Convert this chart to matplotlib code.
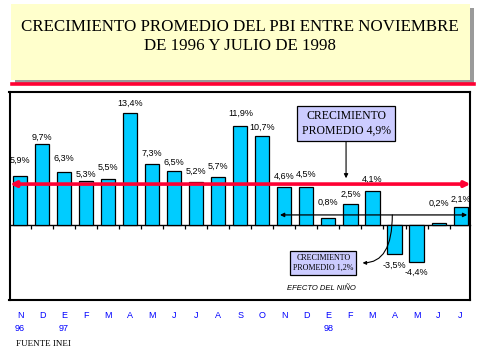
import numpy as np
import matplotlib
matplotlib.use("Agg")
import matplotlib.pyplot as plt
from matplotlib.patches import Rectangle
from matplotlib.lines import Line2D

# Crecimiento mensual del PBI (%) nov-96 .. jul-98
months = ["N", "D", "E", "F", "M", "A", "M", "J", "J", "A", "S",
          "O", "N", "D", "E", "F", "M", "A", "M", "J", "J"]
years = ["96", "", "97", "", "", "", "", "", "", "", "",
         "", "", "", "98", "", "", "", "", "", ""]
growth = [5.9, 9.7, 6.3, 5.3, 5.5, 13.4, 7.3, 6.5, 5.2, 5.7, 11.9,
          10.7, 4.6, 4.5, 0.8, 2.5, 4.1, -3.5, -4.4, 0.2, 2.1]
avg_total = 4.9
avg_nino = 1.2
# distance (px) of each value label from the bar end
label_gap = [15, 7, 14, 6, 12, 10, 11, 8, 10, 11, 12, 8, 10, 13, 16, 10, 11, 11, 11, 20, 8]

n = len(growth)
xs = np.arange(n)

fig = plt.figure(figsize=(4.79, 3.59), dpi=100)

# title box with shadow
W, H = 479.0, 359.0
fig.patches.append(Rectangle((15 / W, 1 - 84 / H), 459 / W, 76 / H,
                             transform=fig.transFigure, facecolor="#9a9a9a",
                             edgecolor="none", zorder=0))
fig.patches.append(Rectangle((11 / W, 1 - 80 / H), 459 / W, 76 / H,
                             transform=fig.transFigure, facecolor="#ffffcc",
                             edgecolor="none", zorder=1))
fig.text(240 / W, 1 - 36.5 / H,
         "CRECIMIENTO PROMEDIO DEL PBI ENTRE NOVIEMBRE\nDE 1996 Y JULIO DE 1998",
         ha="center", va="center", fontsize=12.2, family="Liberation Serif",
         linespacing=1.25, zorder=2)

# red line under the title
fig.lines.append(Line2D([12 / W, 474 / W], [1 - 84 / H, 1 - 84 / H],
                        transform=fig.transFigure, color="#ff0033", lw=2.6))

ax = fig.add_axes([9.5 / W, 1 - 300 / H, 461 / W, 208.5 / H])
ymin, ymax = -9, 16
ax.set_xlim(-0.48, n - 0.55)
ax.set_ylim(ymin, ymax)

ax.bar(xs, growth, width=0.64, color="#00ccff", edgecolor="black", lw=0.9, zorder=2)

for x, v, g in zip(xs, growth, label_gap):
    txt = f"{v:.1f}".replace(".", ",") + "%"
    off = g * 0.72 if v >= 0 else -g * 0.72
    ax.annotate(txt, (x, v), xytext=(0, off), textcoords="offset points",
                ha="center", va="center", fontsize=6.5, family="Liberation Sans")

# zero line with ticks between categories
loc = -ymin / (ymax - ymin)
sec = ax.secondary_xaxis(loc)
sec.set_xticks(np.arange(n - 1) + 0.5)
sec.set_xticklabels([])
sec.tick_params(axis="x", direction="out", length=3, width=0.9)
sec.spines["bottom"].set_linewidth(1.0)

ax.set_yticks([])
ax.set_xticks(xs)
ax.set_xticklabels([m + "\n" + y if y else m for m, y in zip(months, years)],
                   color="#0000ff", fontsize=6.5, family="Liberation Sans")
for lbl in ax.get_xticklabels():
    lbl.set_linespacing(1.6)
    lbl.set_verticalalignment("top")
ax.tick_params(axis="x", length=0, pad=7.8)
for s in ax.spines.values():
    s.set_linewidth(1.5)

# average growth arrow (red)
ax.annotate("", xy=(n - 0.55, avg_total), xytext=(-0.45, avg_total),
            arrowprops=dict(arrowstyle="<|-|>", color="#ff0033", lw=2.6,
                            mutation_scale=8, shrinkA=0, shrinkB=0), zorder=3)

# average growth during El Nino (black)
ax.annotate("", xy=(20.3, avg_nino), xytext=(11.8, avg_nino),
            arrowprops=dict(arrowstyle="<|-|>", color="black", lw=0.9,
                            mutation_scale=6, shrinkA=0, shrinkB=0), zorder=3)

ax.text(14.8, 12.2, "CRECIMIENTO\nPROMEDIO " + f"{avg_total:.1f}".replace(".", ",") + "%",
        ha="center", va="center", fontsize=8.5, family="Liberation Serif",
        linespacing=1.3,
        bbox=dict(boxstyle="square,pad=0.35", facecolor="#ccccff",
                  edgecolor="black", lw=0.9), zorder=4)
ax.annotate("", xy=(14.8, 5.6), xytext=(14.8, 10.2),
            arrowprops=dict(arrowstyle="-|>", color="black", lw=0.8,
                            mutation_scale=6, shrinkA=0, shrinkB=0))

ax.text(13.77, -4.55, "CRECIMIENTO\nPROMEDIO " + f"{avg_nino:.1f}".replace(".", ",") + "%",
        ha="center", va="center", fontsize=5.8, family="Liberation Serif",
        linespacing=1.3,
        bbox=dict(boxstyle="square,pad=0.35", facecolor="#ccccff",
                  edgecolor="black", lw=0.9), zorder=4)
ax.annotate("", xy=(15.55, -4.55), xytext=(16.9, avg_nino),
            arrowprops=dict(arrowstyle="-|>", color="black", lw=0.8,
                            mutation_scale=5, shrinkA=0, shrinkB=0,
                            connectionstyle="angle3,angleA=90,angleB=0"), zorder=3)

ax.text(13.7, -7.66, "EFECTO DEL NIÑO", ha="center", va="center",
        fontsize=5.5, style="italic", family="Liberation Sans")

fig.text(16 / W, 1 - 344 / H, "FUENTE INEI", ha="left", va="center",
         fontsize=6.5, family="Liberation Serif")

fig.savefig("out.png", dpi=100)
